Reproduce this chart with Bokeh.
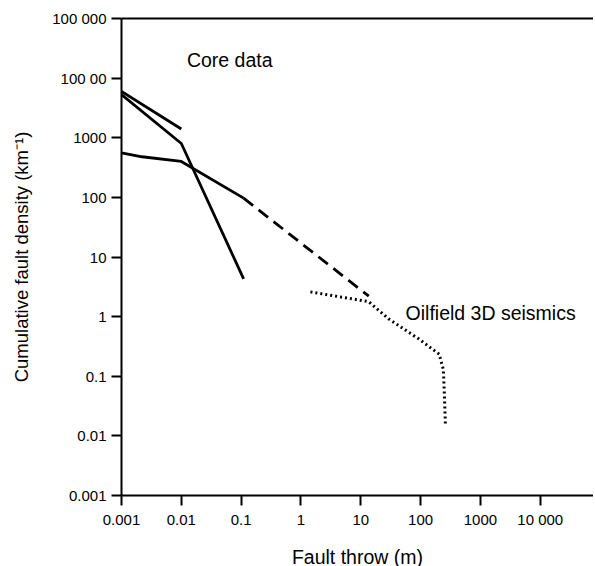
from bokeh.plotting import figure
from bokeh.models import LogAxis, FixedTicker, Range1d
from bokeh.core.properties import value
from bokeh.embed import file_html
from bokeh.resources import INLINE

# Core data lines
core1_x = [0.001, 0.01]
core1_y = [6000, 1400]
core2_x = [0.001, 0.01, 0.11]
core2_y = [5300, 800, 4.3]
core3_x = [0.001, 0.0022, 0.01, 0.11]
core3_y = [560, 480, 400, 97]
# dashed extrapolation
dash_x = [0.11, 13.6]
dash_y = [97, 2.2]
# Oilfield 3D seismics (dotted)
oil_x = [1.44, 13.6, 29.5, 94, 204, 240, 250, 260]
oil_y = [2.6, 1.78, 0.91, 0.42, 0.235, 0.13, 0.047, 0.0148]

x_ticks = [0.001, 0.01, 0.1, 1, 10, 100, 1000, 10000]
x_labels = ["0.001", "0.01", "0.1", "1", "10", "100", "1000", "10 000"]
y_ticks = [0.001, 0.01, 0.1, 1, 10, 100, 1000, 10000, 100000]
y_labels = ["0.001", "0.01", "0.1", "1", "10", "100", "1000", "100 00", "100 000"]

FONT = "Liberation Sans"

p = figure(x_axis_type="log", y_axis_type="log",
           x_range=Range1d(0.001, 10 ** 4.89), y_range=Range1d(0.001, 100000),
           frame_width=472, frame_height=477,
           min_border_left=121, min_border_right=0, min_border_top=18, min_border_bottom=66,
           output_backend="svg", toolbar_location=None, outline_line_color=None)
p.grid.visible = False
p.background_fill_color = "white"

for ax in (p.xaxis[0], p.yaxis[0]):
    ax.axis_line_width = 2
    ax.axis_line_color = "black"
    ax.major_tick_line_width = 2
    ax.major_tick_line_color = "black"
    ax.major_tick_out = 10
    ax.major_tick_in = 0
    ax.minor_tick_line_color = None
    ax.major_label_text_font = FONT
    ax.major_label_text_font_size = "15px"
    ax.major_label_text_color = "black"
    ax.axis_label_text_font = FONT
    ax.axis_label_text_font_style = "normal"
    ax.axis_label_text_color = "black"

p.xaxis[0].ticker = FixedTicker(ticks=x_ticks)
p.xaxis[0].major_label_overrides = dict(zip(x_ticks, x_labels))
p.xaxis[0].axis_label = "Fault throw (m)"
p.xaxis[0].axis_label_text_font_size = "19.5px"
p.xaxis[0].major_label_standoff = 5
p.xaxis[0].axis_label_standoff = 15

p.yaxis[0].ticker = FixedTicker(ticks=y_ticks)
p.yaxis[0].major_label_overrides = dict(zip(y_ticks, y_labels))
p.yaxis[0].axis_label = "Cumulative fault density (km⁻¹)"
p.yaxis[0].axis_label_text_font_size = "18.5px"
p.yaxis[0].major_label_standoff = 5
p.yaxis[0].axis_label_standoff = 17

top = LogAxis(ticker=FixedTicker(ticks=[]), axis_line_width=2, axis_line_color="black",
              major_label_text_font_size="0px", major_tick_out=0, major_tick_in=0,
              minor_tick_line_color=None, major_tick_line_color=None)
p.add_layout(top, "above")

lw = 2.8
p.line(core1_x, core1_y, line_width=lw, line_color="black")
p.line(core2_x, core2_y, line_width=lw, line_color="black")
p.line(core3_x, core3_y, line_width=lw, line_color="black")
p.line(dash_x, dash_y, line_width=lw, line_color="black", line_dash="12 7")
p.line(oil_x, oil_y, line_width=3, line_color="black", line_dash="2 3")

p.text(x=[0.0124], y=[20500], text=["Core data"], text_font=value(FONT),
       text_font_size="19.5px", text_baseline="middle", text_align="left", text_color="black")
p.text(x=[56], y=[1.17], text=["Oilfield 3D seismics"], text_font=value(FONT),
       text_font_size="19.5px", text_baseline="middle", text_align="left", text_color="black")

open("out.html", "w").write(file_html(p, INLINE))
